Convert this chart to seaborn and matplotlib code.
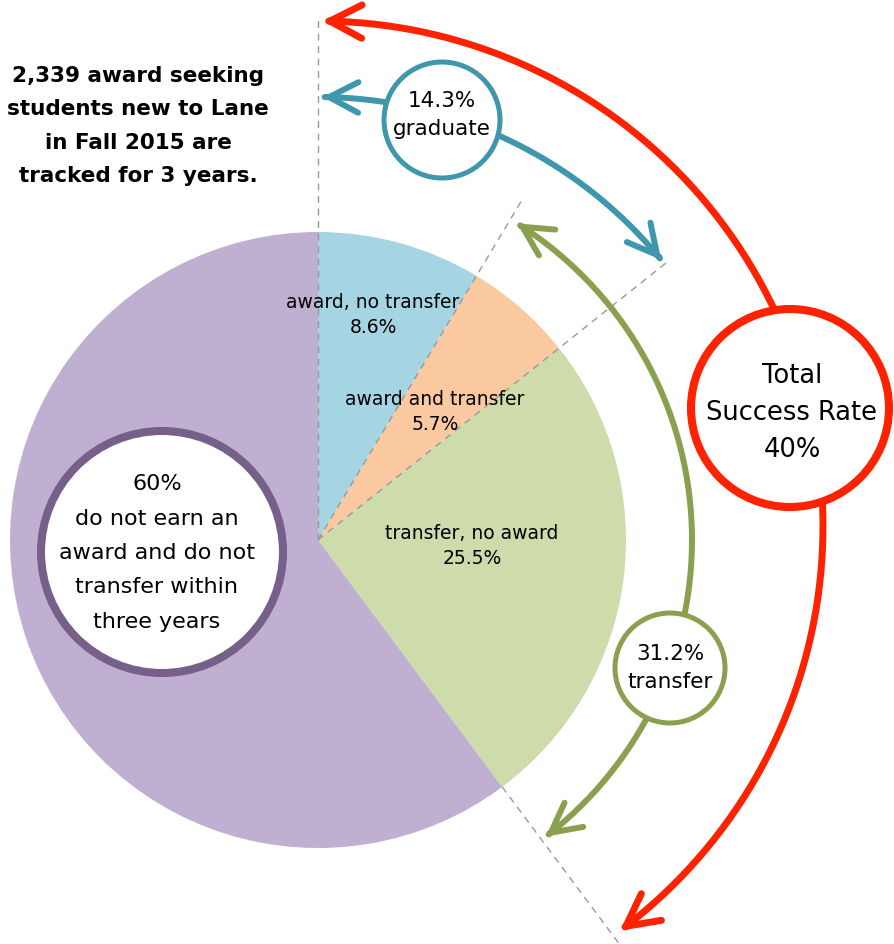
import numpy as np
import matplotlib
matplotlib.use("Agg")
import matplotlib.pyplot as plt
import seaborn as sns
from matplotlib.patches import Circle, FancyArrowPatch
from matplotlib.path import Path

# data
slice_labels = ["award, no transfer", "award and transfer", "transfer, no award", "no award, no transfer"]
slice_pcts = [8.6, 5.7, 25.5, 60.2]
slice_colors = ["#A5D5E3", "#FAC9A0", "#CDDCAA", "#BFAFD0"]
n_students = "2,339"
cohort_term = "Fall 2015"
grad_pct = 14.3
transfer_pct = 31.2
success_pct = 40
none_pct = 60

W, H = 895, 945


def P(x, y):
    # pixel position (y down) -> data coords (y up)
    return x, H - y


def polar(c, r, a):
    # angle in degrees clockwise from 12 o'clock
    a = np.radians(a)
    return c[0] + r * np.sin(a), c[1] + r * np.cos(a)


sns.set_theme(style="white")
plt.rcParams['font.family'] = ['DejaVu Sans']

fig = plt.figure(figsize=(W / 100, H / 100), dpi=100)
ax = fig.add_axes([0, 0, 1, 1])

pc = P(318, 541)
R = 308
ax.pie(slice_pcts, colors=slice_colors, startangle=90, counterclock=False,
       center=pc, radius=R, wedgeprops=dict(linewidth=0, zorder=1))

# boundary angles (clockwise from top)
cum = np.cumsum([0] + slice_pcts) / 100 * 360
dash_kw = dict(color="#999999", lw=1, ls=(0, (5, 4)), zorder=2)
for a, r0, r1 in [(cum[0], 0, 521), (cum[1], 0, 400), (cum[2], 0, 448), (cum[3], R, 508)]:
    p0, p1 = polar(pc, r0, a), polar(pc, r1, a)
    ax.plot([p0[0], p1[0]], [p0[1], p1[1]], **dash_kw)


def arc_arrow(c, r, a0, a1, color, lw, hl, hw):
    ang = np.linspace(a0, a1, 200)
    verts = [polar(c, r, a) for a in ang]
    arr = FancyArrowPatch(path=Path(verts),
                          arrowstyle=f"<->,head_length={hl},head_width={hw}",
                          color=color, lw=lw, mutation_scale=1,
                          shrinkA=0, shrinkB=0, capstyle="round",
                          joinstyle="round", zorder=3)
    ax.add_patch(arr)


red, teal, green, purple = "#FF2200", "#3E97AC", "#8BA04E", "#76608A"
arc_arrow(P(318, 527), 505, 0.5, cum[3], red, 5, 23, 12)
arc_arrow(pc, 443, 0.6, cum[2] - 0.7, teal, 4.3, 21, 11)
arc_arrow(pc, 374, cum[1] + 1.2, cum[3] - 0.8, green, 4.3, 21, 11)

# circles
for (x, y), r, col, lw in [((442, 121), 58, teal, 3.6), ((670, 669), 55, green, 3.6),
                           ((790, 409), 99, red, 5.8), ((162, 553), 121, purple, 5.8)]:
    ax.add_patch(Circle(P(x, y), r, facecolor="white", edgecolor=col, lw=lw, zorder=4))

txt = dict(ha="center", va="center", color="black", zorder=5)
ax.text(*P(138, 126), f"{n_students} award seeking\nstudents new to Lane\nin {cohort_term} are\ntracked for 3 years.",
        fontsize=15.5, fontweight="bold", linespacing=1.83, **txt)
ax.text(*P(373, 315), f"{slice_labels[0]}\n{slice_pcts[0]}%", fontsize=13.5, linespacing=1.4, **txt)
ax.text(*P(435, 412), f"{slice_labels[1]}\n{slice_pcts[1]}%", fontsize=13.5, linespacing=1.4, **txt)
ax.text(*P(472, 546), f"{slice_labels[2]}\n{slice_pcts[2]}%", fontsize=13.5, linespacing=1.4, **txt)
ax.text(*P(157, 553), f"{none_pct}%\ndo not earn an\naward and do not\ntransfer within\nthree years",
        fontsize=16, linespacing=1.9, **txt)
ax.text(*P(442, 115), f"{grad_pct}%\ngraduate", fontsize=15.5, linespacing=1.45, **txt)
ax.text(*P(670, 668), f"{transfer_pct}%\ntransfer", fontsize=15.5, linespacing=1.45, **txt)
ax.text(*P(792, 413), f"Total\nSuccess Rate\n{success_pct}%", fontsize=18.5, linespacing=1.55, **txt)

ax.set_xlim(0, W)
ax.set_ylim(0, H)
ax.set_aspect("equal")
ax.axis("off")

fig.savefig("out.png", dpi=100, facecolor="white")
